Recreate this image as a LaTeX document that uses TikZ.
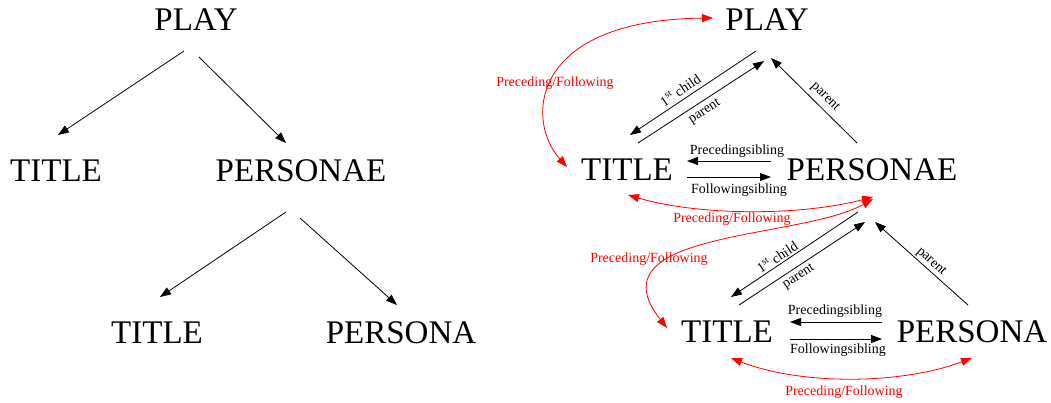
\documentclass[tikz,border=0pt]{standalone}
\usepackage{fontspec}
\setmainfont{Liberation Serif}
\usetikzlibrary{arrows.meta}
\begin{document}
\begin{tikzpicture}[x=1pt,y=-1pt,
  big/.style={font=\fontsize{33}{36}\selectfont, inner sep=0pt, anchor=base},
  small/.style={font=\fontsize{14}{16}\selectfont, inner sep=0pt},
  redlbl/.style={small, text=red},
  arr/.style={line width=0.8pt, -{Triangle[length=11pt,width=8pt]}},
  redarr/.style={red, line width=0.8pt, {Triangle[length=11pt,width=8pt]}-{Triangle[length=11pt,width=8pt]}}]
\useasboundingbox (0,0) rectangle (1051,402);
% ---------- left tree ----------
\node[big] (lplay) at (196,30) {PLAY};
\node[big] (ltitle) at (56,181) {TITLE};
\node[big] (lpersonae) at (301,181) {PERSONAE};
\node[big] (ltitle2) at (157,343) {TITLE};
\node[big] (lpersona) at (401,343) {PERSONA};
\coordinate (a1s) at (184,51);  \coordinate (a1e) at (58,135);
\coordinate (a2s) at (199,57);  \coordinate (a2e) at (286,143);
\coordinate (a3s) at (286,212); \coordinate (a3e) at (160,297);
\coordinate (a4s) at (300,218); \coordinate (a4e) at (397,305);
\draw[arr] (a1s) -- (a1e);
\draw[arr] (a2s) -- (a2e);
\draw[arr] (a3s) -- (a3e);
\draw[arr] (a4s) -- (a4e);
% ---------- right diagram ----------
\node[big] (rplay) at (767,30) {PLAY};
\node[big] (rtitle) at (627,180) {TITLE};
\node[big] (rpersonae) at (872,180) {PERSONAE};
\node[big] (rtitle2) at (727,342) {TITLE};
\node[big] (rpersona) at (972,342) {PERSONA};
% upper level
\coordinate (c1s) at (756,51);  \coordinate (c1e) at (630,135);
\coordinate (p1s) at (638,143); \coordinate (p1e) at (764,61);
\coordinate (p2s) at (857,143); \coordinate (p2e) at (771,58);
\draw[arr] (c1s) -- (c1e);
\draw[arr] (p1s) -- (p1e);
\draw[arr] (p2s) -- (p2e);
\node[small, rotate=33.7] (lc1) at (680,90) {1\textsuperscript{st} child};
\node[small, rotate=33.2] (lp1) at (705,112) {parent};
\node[small, rotate=-45] (lp2) at (825,97) {parent};
\coordinate (s1s) at (771,161); \coordinate (s1e) at (687,161);
\coordinate (f1s) at (687,177); \coordinate (f1e) at (771,177);
\draw[arr] (s1s) -- (s1e);
\draw[arr] (f1s) -- (f1e);
\node[small, anchor=base] (ls1) at (737,154) {Precedingsibling};
\node[small, anchor=base] (lf1) at (739,193) {Followingsibling};
% lower level
\coordinate (c2s) at (858,212); \coordinate (c2e) at (731,297);
\coordinate (p3s) at (739,305); \coordinate (p3e) at (865,222);
\coordinate (p4s) at (968,305); \coordinate (p4e) at (875,222);
\draw[arr] (c2s) -- (c2e);
\draw[arr] (p3s) -- (p3e);
\draw[arr] (p4s) -- (p4e);
\node[small, rotate=33.3] (lc2) at (777,257) {1\textsuperscript{st} child};
\node[small, rotate=33.3] (lp3) at (799,277) {parent};
\node[small, rotate=-41.7] (lp4) at (931,262) {parent};
\coordinate (s2s) at (882,322); \coordinate (s2e) at (790,322);
\coordinate (f2s) at (790,339); \coordinate (f2e) at (882,339);
\draw[arr] (s2s) -- (s2e);
\draw[arr] (f2s) -- (f2e);
\node[small, anchor=base] (ls2) at (835,314) {Precedingsibling};
\node[small, anchor=base] (lf2) at (838,353) {Followingsibling};
% red preceding/following
\coordinate (r1a) at (567,167); \coordinate (r1b) at (713,18);
\draw[redarr] (r1a) .. controls (525,120) and (530,20) .. (r1b);
\node[redlbl, anchor=base] (lr1) at (555,86) {Preceding/Following};
\coordinate (r2a) at (628,195); \coordinate (r2b) at (873,197);
\draw[redarr] (r2a) .. controls (700,216) and (800,216) .. (r2b);
\node[redlbl, anchor=base] (lr2) at (732,222) {Preceding/Following};
\coordinate (r3a) at (873,199); \coordinate (r3b) at (667,328);
\draw[redarr] (r3a) .. controls (800,240) and (590,230) .. (r3b);
\node[redlbl, anchor=base] (lr3) at (649,262) {Preceding/Following};
\coordinate (r4a) at (731,358); \coordinate (r4b) at (972,358);
\draw[redarr] (r4a) .. controls (800,385) and (900,385) .. (r4b);
\node[redlbl, anchor=base] (lr4) at (844,395) {Preceding/Following};
\end{tikzpicture}
\end{document}
